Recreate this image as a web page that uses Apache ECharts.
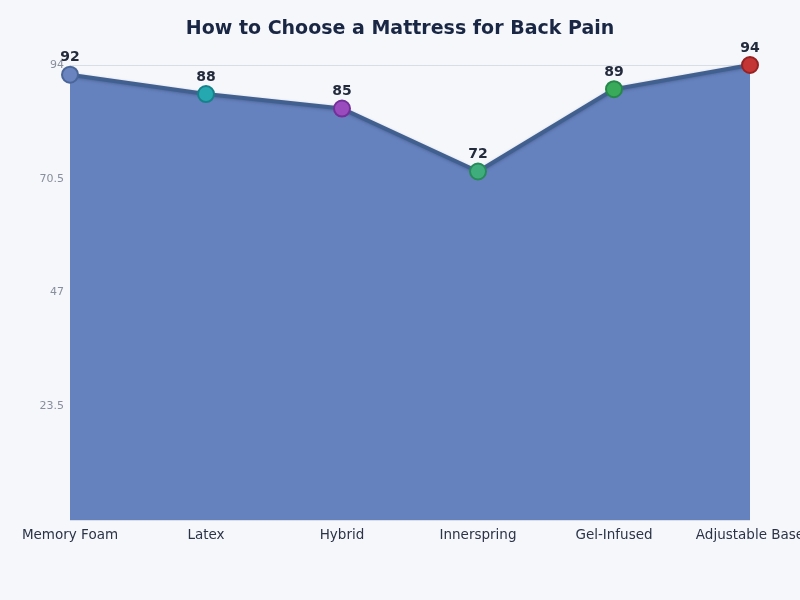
<!DOCTYPE html>
<html lang="en">
  <head>
    <meta charset="UTF-8" />
    <title>How to Choose a Mattress for Back Pain</title>
    <script src="https://cdn.jsdelivr.net/npm/echarts@6.0.0/dist/echarts.min.js"></script>
    <style>
      html, body { margin: 0; padding: 0; background: #f5f7fb; overflow: hidden; }
      #main { width: 800px; height: 600px; }
    </style>
  </head>
  <body>
    <div id="main"></div>
    <script>
      var categories = ["Memory Foam", "Latex", "Hybrid", "Innerspring", "Gel-Infused", "Adjustable Base"];
      var scores = [92, 88, 85, 72, 89, 94];
      var pointColors = ["#6a84bf", "#26a8b0", "#9a4cbf", "#3fae7c", "#38aa5a", "#c43535"];
      var pointBorders = ["#4a6598", "#17818a", "#74309a", "#278a5a", "#25884a", "#962222"];

      var chart = echarts.init(document.getElementById("main"));
      var option = {
        backgroundColor: "#f5f7fb",
        title: {
          text: "How to Choose a Mattress for Back Pain",
          left: "center",
          top: 15,
          textStyle: { fontFamily: "DejaVu Sans", fontSize: 19, fontWeight: "bold", color: "#1a2744" }
        },
        grid: { left: 70, right: 50, top: 65, bottom: 80, containLabel: false, outerBoundsMode: "none" },
        xAxis: {
          type: "category",
          data: categories,
          boundaryGap: false,
          axisLine: { show: false },
          axisTick: { show: false },
          axisLabel: { interval: 0, fontFamily: "DejaVu Sans", fontSize: 13.5, color: "#2b3348", margin: 8 }
        },
        yAxis: {
          type: "value",
          min: 0,
          max: 94,
          interval: 23.5,
          axisLine: { show: false },
          axisTick: { show: false },
          axisLabel: { fontFamily: "DejaVu Sans", fontSize: 11, color: "#888e9c", showMinLabel: false, margin: 6 },
          splitLine: { lineStyle: { color: "#d9dde5", width: 1 } }
        },
        series: [
          {
            type: "line",
            data: scores.map(function (v, i) {
              return {
                value: v,
                itemStyle: { color: pointColors[i], borderColor: pointBorders[i], borderWidth: 2 }
              };
            }),
            symbol: "circle",
            symbolSize: 16,
            lineStyle: { color: "#41608f", width: 4, shadowColor: "rgba(40,60,100,0.35)", shadowBlur: 3, shadowOffsetY: 1 },
            areaStyle: { color: "#6682be", opacity: 1 },
            label: {
              show: true,
              position: "top",
              distance: 1,
              fontFamily: "DejaVu Sans",
              fontSize: 14,
              fontWeight: "bold",
              color: "#222a3c"
            },
            z: 3
          }
        ]
      };
      chart.setOption(option);
    </script>
  </body>
</html>
